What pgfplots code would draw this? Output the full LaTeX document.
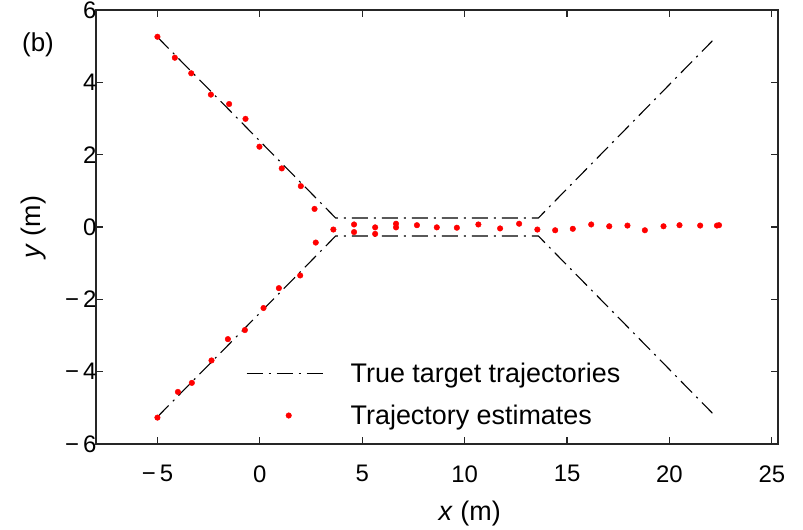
\documentclass[border=0pt]{standalone}
\usepackage{fontspec}
\setmainfont{Liberation Sans}
\usepackage{pgfplots}
\pgfplotsset{compat=1.18}
\usetikzlibrary{calc}
\definecolor{axgray}{RGB}{38,38,38}
\pgfplotsset{
  linelegend/.style={legend image code/.code={\draw[##1] (0bp,0bp) -- (80bp,0bp); \path[draw=none, fill=none] (0bp,0bp) -- (102bp,0bp);}},
  marklegend/.style={legend image code/.code={\draw[##1, only marks] plot coordinates {(42bp,0bp)}; \path[draw=none, fill=none] (0bp,0bp) -- (102bp,0bp);}}
}
\begin{document}
\begin{tikzpicture}
\begin{axis}[name=ax, scale only axis, width=682bp, height=434bp,
 xmin=-8, xmax=25.3, ymin=-6, ymax=6,
 xtick={-5,0,5,10,15,20,25}, xticklabels={−\,5,0,5,10,15,20,25},
 ytick={-6,-4,-2,0,2,4,6}, yticklabels={−\,6,−\,4,−\,2,0,2,4,6},
 tick align=inside, major tick length=7bp,
 tick style={axgray, line width=1.2bp},
 axis line style={axgray, line width=1.6bp},
 ticklabel style={font=\fontsize{24}{28}\selectfont, text=black},
 xticklabel style={yshift=-18bp},
 yticklabel style={xshift=4bp},
 xlabel={\textit{x} (m)}, ylabel={\textit{y} (m)},
 label style={font=\fontsize{27}{32}\selectfont},
 xlabel style={at={(rel axis cs:0.548,-0.161)}, anchor=center},
 ylabel style={at={(rel axis cs:-0.092,0.5)}, anchor=center},
 legend style={draw=none, fill=none, font=\fontsize{27}{32}\selectfont,
   at={(rel axis cs:0.2155,0.114)}, anchor=west, row sep=17bp},
 legend cell align=left,
 clip=false]
\addplot[black, line width=1.1bp, dash pattern=on 16bp off 6bp on 2bp off 6bp, linelegend]
  coordinates {(-5,5.25)(3.7,0.25)(13.6,0.25)(22.1,5.15)};
\addlegendentry{True target trajectories}
\addplot[black, line width=1.1bp, dash pattern=on 16bp off 6bp on 2bp off 6bp, forget plot]
  coordinates {(-5,-5.25)(3.7,-0.25)(13.6,-0.25)(22.1,-5.15)};
\addplot[only marks, mark=*, red, mark options={draw=red, fill=red}, mark size=2.8bp, marklegend]
  coordinates {
  (-5.00,5.26) (-4.15,4.68) (-3.35,4.25) (-2.39,3.66) (-1.50,3.40) (-0.70,2.99)
  (-0.02,2.22) (1.07,1.62) (2.00,1.13) (2.67,0.50) (3.59,-0.07) (2.73,-0.43)
  (1.97,-1.34) (0.93,-1.69) (0.18,-2.24) (-0.73,-2.85) (-1.56,-3.10) (-2.36,-3.69)
  (-3.32,-4.31) (-4.00,-4.56) (-5.00,-5.27)
  (4.60,0.07) (4.60,-0.14) (5.63,-0.01) (5.63,-0.19) (6.65,0.09) (6.65,-0.01)
  (7.67,0.05) (8.64,-0.01) (9.62,-0.02) (10.67,0.07) (11.73,-0.04) (12.66,0.09)
  (13.55,-0.07) (14.42,-0.09) (15.28,-0.05) (16.18,0.07) (17.06,0.02) (17.95,0.04)
  (18.80,-0.09) (19.71,0.02) (20.49,0.05) (21.50,0.04) (22.32,0.04) (22.42,0.05)
  };
\addlegendentry{Trajectory estimates}
\end{axis}
\node[font=\fontsize{26}{31}\selectfont] at ($(ax.south west)+(-58bp,399bp)$) {(b)};
\pgfresetboundingbox
\useasboundingbox ($(ax.south west)+(-96bp,-86bp)$) rectangle ($(ax.north east)+(25bp,10bp)$);
\end{tikzpicture}
\end{document}
